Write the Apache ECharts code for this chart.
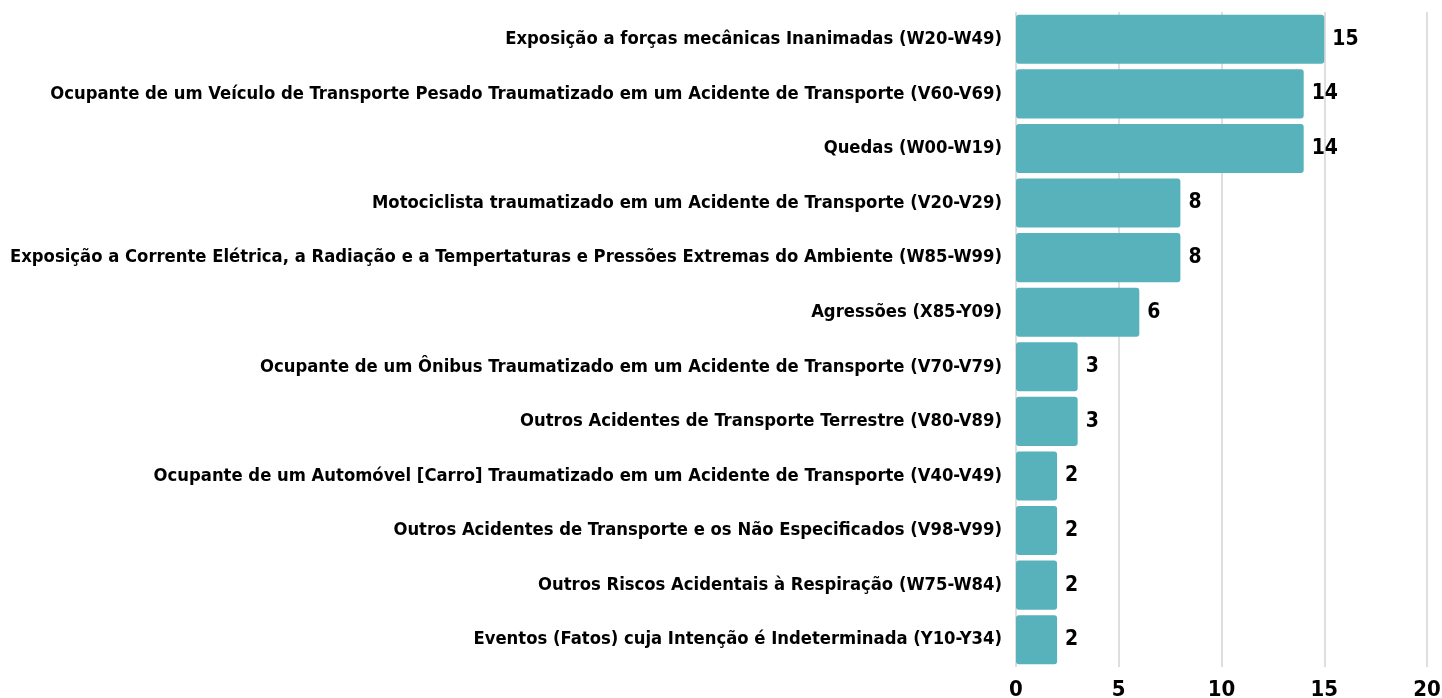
<!DOCTYPE html>
<html><head><meta charset="utf-8">
<script src="https://cdn.jsdelivr.net/npm/echarts@6/dist/echarts.min.js"></script>
<style>html,body{margin:0;padding:0;background:#fff}#c{width:1442px;height:698px}</style>
</head><body><div id="c"></div>
<script>
const categories = [
  "Exposição a forças mecânicas Inanimadas (W20-W49)",
  "Ocupante de um Veículo de Transporte Pesado Traumatizado em um Acidente de Transporte (V60-V69)",
  "Quedas (W00-W19)",
  "Motociclista traumatizado em um Acidente de Transporte (V20-V29)",
  "Exposição a Corrente Elétrica, a Radiação e a Tempertaturas e Pressões Extremas do Ambiente (W85-W99)",
  "Agressões (X85-Y09)",
  "Ocupante de um Ônibus Traumatizado em um Acidente de Transporte (V70-V79)",
  "Outros Acidentes de Transporte Terrestre (V80-V89)",
  "Ocupante de um Automóvel [Carro] Traumatizado em um Acidente de Transporte (V40-V49)",
  "Outros Acidentes de Transporte e os Não Especificados (V98-V99)",
  "Outros Riscos Acidentais à Respiração (W75-W84)",
  "Eventos (Fatos) cuja Intenção é Indeterminada (Y10-Y34)"
];
const values = [15, 14, 14, 8, 8, 6, 3, 3, 2, 2, 2, 2];
const xTicks = { min: 0, max: 20, interval: 5 };

const FONT = "'Liberation Sans Narrow', 'DejaVu Sans Condensed', sans-serif";
const chart = echarts.init(document.getElementById('c'));
chart.setOption({
  animation: false,
  grid: { left: 1016, right: 15, top: 12, bottom: 31, containLabel: false, outerBoundsMode: 'none' },
  xAxis: {
    type: 'value', min: xTicks.min, max: xTicks.max, interval: xTicks.interval,
    axisLine: { show: false }, axisTick: { show: false },
    splitLine: { show: true, lineStyle: { color: '#d3d3d3', width: 1.5 } },
    axisLabel: { color: '#000', fontFamily: FONT, fontWeight: 'bold', fontSize: 22, margin: 12 }
  },
  yAxis: {
    type: 'category', data: categories, inverse: true,
    axisLine: { show: false }, axisTick: { show: false },
    axisLabel: { color: '#000', fontFamily: FONT, fontWeight: 'bold', fontSize: 18.3, margin: 14 }
  },
  series: [{
    type: 'bar', data: values, barCategoryGap: '10%',
    itemStyle: { color: '#57b2bc', borderRadius: 3 },
    label: { show: true, position: 'right', distance: 8, color: '#000', fontFamily: FONT, fontWeight: 'bold', fontSize: 21 }
  }]
});
</script></body></html>
